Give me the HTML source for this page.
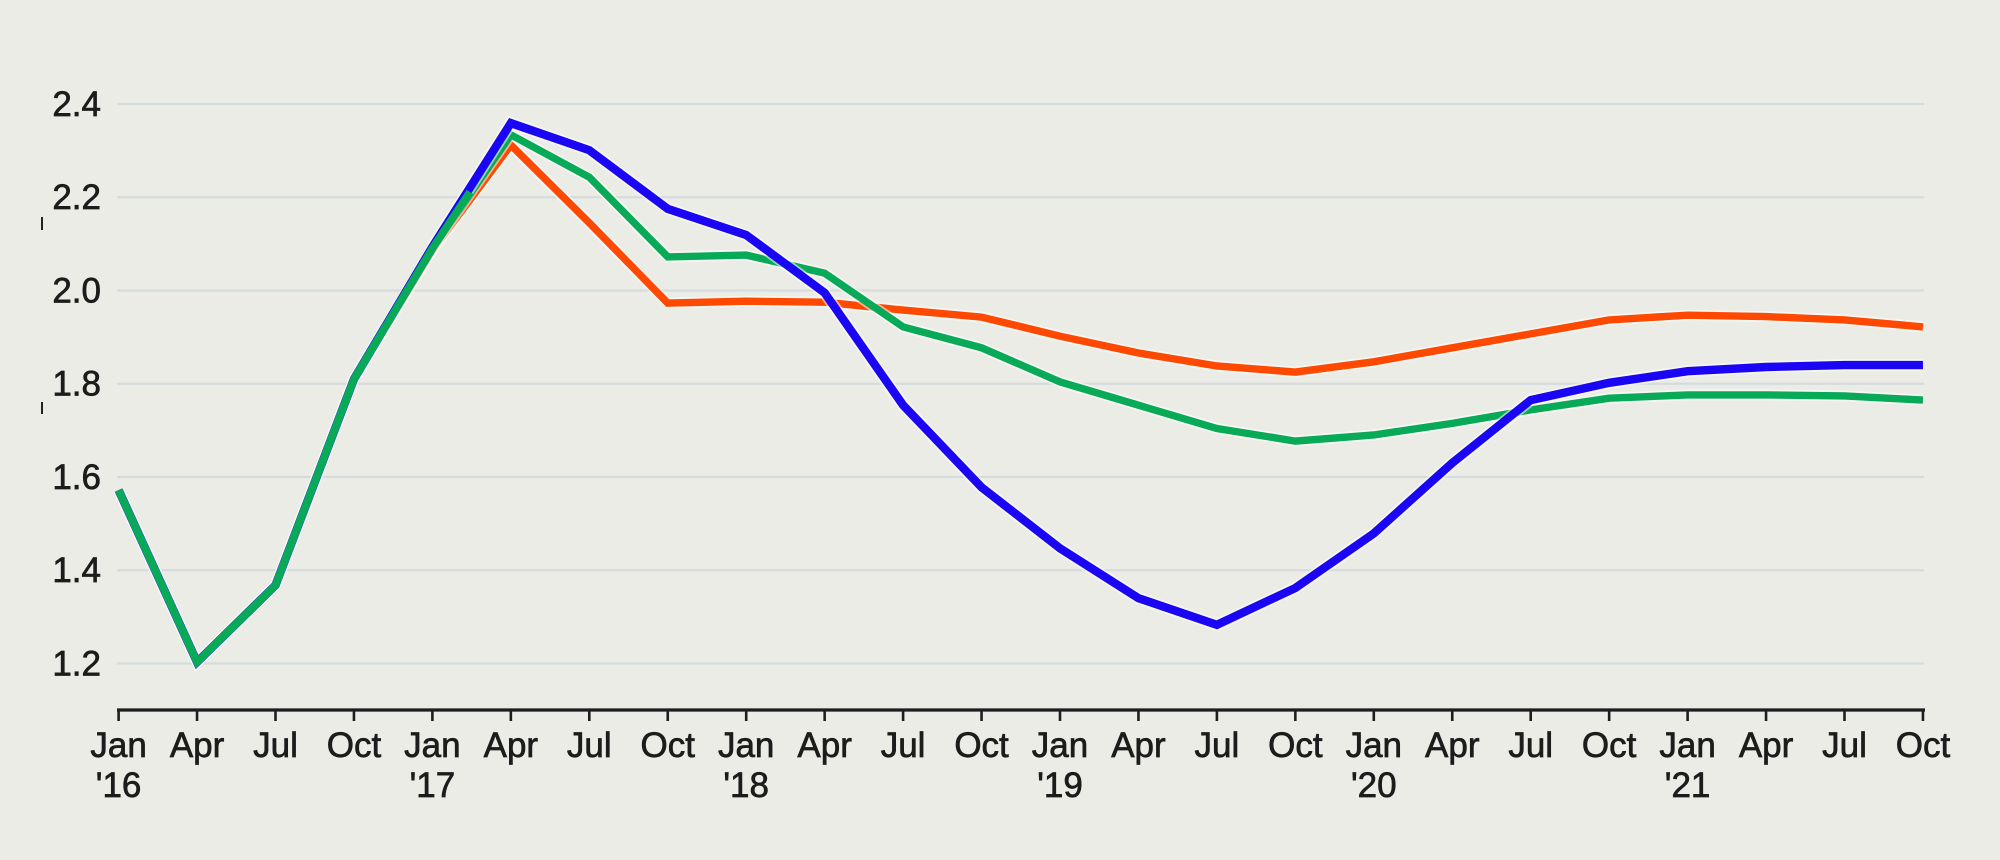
<!DOCTYPE html>
<html>
<head>
<meta charset="utf-8">
<style>
  html, body { margin: 0; padding: 0; background: #ebece5; }
  body { width: 2000px; height: 860px; overflow: hidden; }
  svg { display: block; }
  text { font-family: "Liberation Sans", Arial, sans-serif; font-size: 35px; fill: #1c1c1c; stroke: #1c1c1c; stroke-width: 0.7px; }
</style>
</head>
<body>
<svg width="2000" height="860" viewBox="0 0 2000 860" xmlns="http://www.w3.org/2000/svg">
  <rect x="0" y="0" width="2000" height="860" fill="#ebece5"/>

  <!-- gridlines -->
  <g stroke="#d6dbdd" stroke-width="2.2">
    <line x1="117" y1="104" x2="1924" y2="104"/>
    <line x1="117" y1="197.25" x2="1924" y2="197.25"/>
    <line x1="117" y1="290.5" x2="1924" y2="290.5"/>
    <line x1="117" y1="383.75" x2="1924" y2="383.75"/>
    <line x1="117" y1="477" x2="1924" y2="477"/>
    <line x1="117" y1="570.25" x2="1924" y2="570.25"/>
    <line x1="117" y1="663.5" x2="1924" y2="663.5"/>
  </g>

  <!-- y labels -->
  <g text-anchor="end">
    <text x="101" y="116">2.4</text>
    <text x="101" y="209">2.2</text>
    <text x="101" y="302.5">2.0</text>
    <text x="101" y="395.5">1.8</text>
    <text x="101" y="489">1.6</text>
    <text x="101" y="582">1.4</text>
    <text x="101" y="675.5">1.2</text>
  </g>

  <!-- small left marks -->
  <g stroke="#222" stroke-width="2">
    <line x1="42" y1="217" x2="42" y2="230"/>
    <line x1="42" y1="402" x2="42" y2="414"/>
  </g>

  <!-- series -->
  <g fill="none" stroke-linejoin="miter" stroke-linecap="butt">
    <!-- orange -->
    <polyline stroke="#ffffff" stroke-opacity="0.55" stroke-width="11"
      points="118.6,490.1 197.05,662.1 275.5,585.2 353.95,379.1 432.4,250 510.85,145 589.3,222.9 667.75,303.1 746.2,301.2 824.65,302.2 903.1,310.1 981.55,317.1 1060,336.2 1138.45,353 1216.9,366 1295.35,372.1 1373.8,361.8 1452.25,347.8 1530.7,333.9 1609.15,319.9 1687.6,315.2 1766.05,316.6 1844.5,319.9 1922.95,326.9"/>
    <polyline stroke="#ff4800" stroke-width="7.4"
      points="118.6,490.1 197.05,662.1 275.5,585.2 353.95,379.1 432.4,250 510.85,145 589.3,222.9 667.75,303.1 746.2,301.2 824.65,302.2 903.1,310.1 981.55,317.1 1060,336.2 1138.45,353 1216.9,366 1295.35,372.1 1373.8,361.8 1452.25,347.8 1530.7,333.9 1609.15,319.9 1687.6,315.2 1766.05,316.6 1844.5,319.9 1922.95,326.9"/>

    <!-- green -->
    <polyline stroke="#ffffff" stroke-opacity="0.55" stroke-width="11"
      points="118.6,490.1 197.05,662.1 275.5,585.2 353.95,379.1 432.4,248.5 510.85,134.8 589.3,177.2 667.75,256.9 746.2,255.1 824.65,273.2 903.1,326.9 981.55,347.8 1060,381.9 1138.45,405.2 1216.9,428.5 1295.35,441.1 1373.8,435 1452.25,423.4 1530.7,409.9 1609.15,398.2 1687.6,394.9 1766.05,394.9 1844.5,395.9 1922.95,400.1"/>
    <polyline stroke="#08aa58" stroke-width="7.4"
      points="118.6,490.1 197.05,662.1 275.5,585.2 353.95,379.1 432.4,248.5 510.85,134.8 589.3,177.2 667.75,256.9 746.2,255.1 824.65,273.2 903.1,326.9 981.55,347.8 1060,381.9 1138.45,405.2 1216.9,428.5 1295.35,441.1 1373.8,435 1452.25,423.4 1530.7,409.9 1609.15,398.2 1687.6,394.9 1766.05,394.9 1844.5,395.9 1922.95,400.1"/>

    <!-- blue -->
    <polyline stroke="#ffffff" stroke-opacity="0.55" stroke-width="12"
      points="432.4,247 510.85,123.1 589.3,150.2 667.75,208.9 746.2,235 824.65,292.8 903.1,405.2 981.55,487.3 1060,548.3 1138.45,598.2 1216.9,624.8 1295.35,588 1373.8,533.4 1452.25,463 1530.7,400.1 1609.15,382.8 1687.6,371.2 1766.05,367 1844.5,365.1 1922.95,365.1"/>
    <polyline stroke="#1a06f2" stroke-width="8.4"
      points="118.6,490.1 197.05,662.1 275.5,585.2 353.95,379.1 432.4,247 510.85,123.1 589.3,150.2 667.75,208.9 746.2,235 824.65,292.8 903.1,405.2 981.55,487.3 1060,548.3 1138.45,598.2 1216.9,624.8 1295.35,588 1373.8,533.4 1452.25,463 1530.7,400.1 1609.15,382.8 1687.6,371.2 1766.05,367 1844.5,365.1 1922.95,365.1"/>

    <!-- green early segment on top -->
    <polyline stroke="#08aa58" stroke-width="7.8"
      points="118.6,490.1 197.05,662.1 275.5,585.2 353.95,379.1 432.4,248.5 470,192"/>
  </g>

  <!-- x axis -->
  <line x1="117" y1="710" x2="1925" y2="710" stroke="#1e1e1e" stroke-width="3.2"/>
  <g stroke="#1e1e1e" stroke-width="2.6">
    <line x1="118.6" y1="710" x2="118.6" y2="721"/>
    <line x1="197.05" y1="710" x2="197.05" y2="721"/>
    <line x1="275.5" y1="710" x2="275.5" y2="721"/>
    <line x1="353.95" y1="710" x2="353.95" y2="721"/>
    <line x1="432.4" y1="710" x2="432.4" y2="721"/>
    <line x1="510.85" y1="710" x2="510.85" y2="721"/>
    <line x1="589.3" y1="710" x2="589.3" y2="721"/>
    <line x1="667.75" y1="710" x2="667.75" y2="721"/>
    <line x1="746.2" y1="710" x2="746.2" y2="721"/>
    <line x1="824.65" y1="710" x2="824.65" y2="721"/>
    <line x1="903.1" y1="710" x2="903.1" y2="721"/>
    <line x1="981.55" y1="710" x2="981.55" y2="721"/>
    <line x1="1060" y1="710" x2="1060" y2="721"/>
    <line x1="1138.45" y1="710" x2="1138.45" y2="721"/>
    <line x1="1216.9" y1="710" x2="1216.9" y2="721"/>
    <line x1="1295.35" y1="710" x2="1295.35" y2="721"/>
    <line x1="1373.8" y1="710" x2="1373.8" y2="721"/>
    <line x1="1452.25" y1="710" x2="1452.25" y2="721"/>
    <line x1="1530.7" y1="710" x2="1530.7" y2="721"/>
    <line x1="1609.15" y1="710" x2="1609.15" y2="721"/>
    <line x1="1687.6" y1="710" x2="1687.6" y2="721"/>
    <line x1="1766.05" y1="710" x2="1766.05" y2="721"/>
    <line x1="1844.5" y1="710" x2="1844.5" y2="721"/>
    <line x1="1922.95" y1="710" x2="1922.95" y2="721"/>
  </g>

  <!-- x labels -->
  <g text-anchor="middle">
    <text x="118.6" y="757">Jan</text>
    <text x="197.05" y="757">Apr</text>
    <text x="275.5" y="757">Jul</text>
    <text x="353.95" y="757">Oct</text>
    <text x="432.4" y="757">Jan</text>
    <text x="510.85" y="757">Apr</text>
    <text x="589.3" y="757">Jul</text>
    <text x="667.75" y="757">Oct</text>
    <text x="746.2" y="757">Jan</text>
    <text x="824.65" y="757">Apr</text>
    <text x="903.1" y="757">Jul</text>
    <text x="981.55" y="757">Oct</text>
    <text x="1060" y="757">Jan</text>
    <text x="1138.45" y="757">Apr</text>
    <text x="1216.9" y="757">Jul</text>
    <text x="1295.35" y="757">Oct</text>
    <text x="1373.8" y="757">Jan</text>
    <text x="1452.25" y="757">Apr</text>
    <text x="1530.7" y="757">Jul</text>
    <text x="1609.15" y="757">Oct</text>
    <text x="1687.6" y="757">Jan</text>
    <text x="1766.05" y="757">Apr</text>
    <text x="1844.5" y="757">Jul</text>
    <text x="1922.95" y="757">Oct</text>

    <text x="118.6" y="797">'16</text>
    <text x="432.4" y="797">'17</text>
    <text x="746.2" y="797">'18</text>
    <text x="1060" y="797">'19</text>
    <text x="1373.8" y="797">'20</text>
    <text x="1687.6" y="797">'21</text>
  </g>
</svg>
</body>
</html>
